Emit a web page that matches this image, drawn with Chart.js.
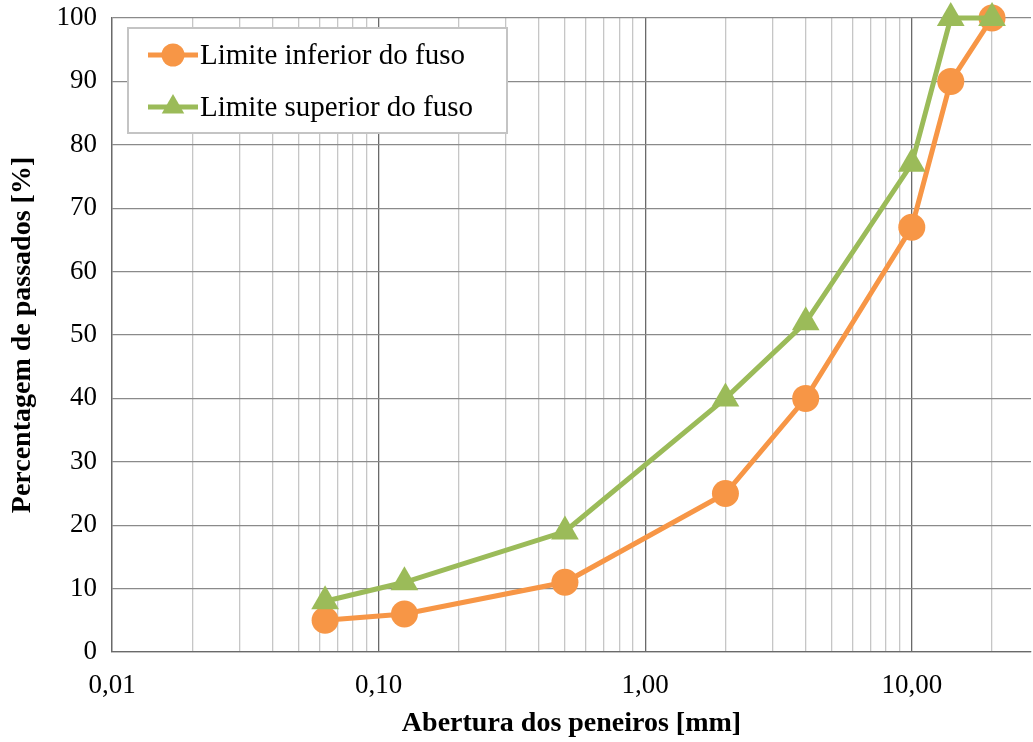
<!DOCTYPE html>
<html>
<head>
<meta charset="utf-8">
<script src="https://cdn.jsdelivr.net/npm/chart.js@4"></script>
<style>
  html, body { margin: 0; padding: 0; background: #ffffff; overflow: hidden; }
  #grafico { display: block; }
</style>
</head>
<body>
<canvas id="grafico" width="1033" height="742"></canvas>
<script>
// Aberturas dos peneiros (mm) e percentagens de passados
const aberturas = [0.063, 0.125, 0.5, 2, 4, 10, 14, 20];
const limiteInferior = [5, 6, 11, 25, 40, 67, 90, 100];
const limiteSuperior = [8, 11, 19, 40, 52, 77, 100, 100];

// Marcas do eixo x (décadas) e os seus rótulos
const decadas = [0.01, 0.1, 1, 10];
const rotulosX = ["0,01", "0,10", "1,00", "10,00"];

const nomesSeries = ["Limite inferior do fuso", "Limite superior do fuso"];
const corLaranja = "#F79646";
const corVerde = "#9BBB59";
const fonte = "'Liberation Serif', 'Times New Roman', serif";

function pontos(valores) {
    return aberturas.map((a, i) => ({ x: a, y: valores[i] }));
}

function ehDecada(v) {
    return decadas.some(d => Math.abs(v - d) < d * 1e-6);
}

/**
 * Legenda desenhada dentro da área do gráfico, com linha + marcador
 */
const legendaCaixa = {
    id: "legendaCaixa",
    afterDraw(chart) {
        const ctx = chart.ctx;
        const x0 = 128, y0 = 28, w = 379, h = 105;
        ctx.save();
        ctx.fillStyle = "#ffffff";
        ctx.fillRect(x0, y0, w, h);
        ctx.strokeStyle = "#c4c4c4";
        ctx.lineWidth = 2;
        ctx.strokeRect(x0, y0, w, h);

        chart.data.datasets.forEach((ds, i) => {
            const y = y0 + 27 + i * 52;
            ctx.strokeStyle = ds.borderColor;
            ctx.lineWidth = ds.borderWidth;
            ctx.beginPath();
            ctx.moveTo(148, y);
            ctx.lineTo(198, y);
            ctx.stroke();

            ctx.fillStyle = ds.pointBackgroundColor;
            ctx.strokeStyle = ds.pointBorderColor;
            Chart.helpers.drawPoint(ctx, {
                pointStyle: ds.pointStyle,
                radius: ds.pointStyle === "triangle" ? 13 : 11.5,
                rotation: 0,
                borderWidth: 0
            }, 173, y);

            ctx.fillStyle = "#000000";
            ctx.font = "29px " + fonte;
            ctx.textBaseline = "middle";
            ctx.textAlign = "left";
            ctx.fillText(ds.label, 200, y + 1);
        });
        ctx.restore();
    }
};

const ctx = document.getElementById("grafico");

new Chart(ctx.getContext("2d"), {
    type: "line",
    data: {
        datasets: [
            {
                label: nomesSeries[0],
                data: pontos(limiteInferior),
                borderColor: corLaranja,
                backgroundColor: corLaranja,
                pointBackgroundColor: corLaranja,
                pointBorderColor: corLaranja,
                borderWidth: 5,
                pointStyle: "circle",
                pointRadius: 13.5,
                pointBorderWidth: 0,
                tension: 0,
                clip: false,
                order: 1
            },
            {
                label: nomesSeries[1],
                data: pontos(limiteSuperior),
                borderColor: corVerde,
                backgroundColor: corVerde,
                pointBackgroundColor: corVerde,
                pointBorderColor: corVerde,
                borderWidth: 5,
                pointStyle: "triangle",
                pointRadius: 16,
                pointBorderWidth: 0,
                tension: 0,
                clip: false,
                order: 0
            }
        ]
    },
    options: {
        responsive: false,
        animation: false,
        layout: { autoPadding: false, padding: { top: 18, right: 2, left: 0, bottom: 0 } },
        plugins: {
            legend: { display: false },
            tooltip: { enabled: false }
        },
        scales: {
            x: {
                type: "logarithmic",
                min: 0.01,
                max: 28,
                afterBuildTicks(scale) {
                    const ticks = [];
                    decadas.forEach(d => {
                        for (let k = 1; k <= 9; k++) {
                            const v = d * k;
                            if (v <= scale.max) ticks.push({ value: v });
                        }
                    });
                    scale.ticks = ticks;
                },
                afterFit(scale) {
                    scale.height = 90;
                    scale.paddingLeft = 0;
                    scale.paddingRight = 0;
                },
                grid: {
                    drawTicks: false,
                    color: c => ehDecada(c.tick.value) ? "#6a6a6a" : "#c6c6c6",
                    lineWidth: 1.3
                },
                border: { color: "#6a6a6a", width: 1.3 },
                ticks: {
                    autoSkip: false,
                    maxRotation: 0,
                    padding: 18,
                    color: "#000000",
                    font: { family: fonte, size: 27 },
                    callback: function (value) {
                        const i = decadas.findIndex(d => Math.abs(value - d) < d * 1e-6);
                        return i >= 0 ? rotulosX[i] : "";
                    }
                },
                title: {
                    display: true,
                    text: "Abertura dos peneiros [mm]",
                    color: "#000000",
                    font: { family: fonte, size: 28, weight: "bold" },
                    padding: { top: 0, bottom: 1 }
                }
            },
            y: {
                min: 0,
                max: 100,
                afterFit(scale) {
                    scale.width = 112;
                    scale.paddingTop = 0;
                    scale.paddingBottom = 0;
                },
                grid: {
                    drawTicks: false,
                    color: "#8a8a8a",
                    lineWidth: 1.3
                },
                border: { color: "#6a6a6a", width: 1.3 },
                ticks: {
                    stepSize: 10,
                    padding: 15,
                    color: "#000000",
                    font: { family: fonte, size: 27 }
                },
                title: {
                    display: true,
                    text: "Percentagem de passados [%]",
                    color: "#000000",
                    font: { family: fonte, size: 28, weight: "bold" },
                    padding: { top: 6, bottom: 0 }
                }
            }
        }
    },
    plugins: [legendaCaixa]
});
</script>
</body>
</html>
